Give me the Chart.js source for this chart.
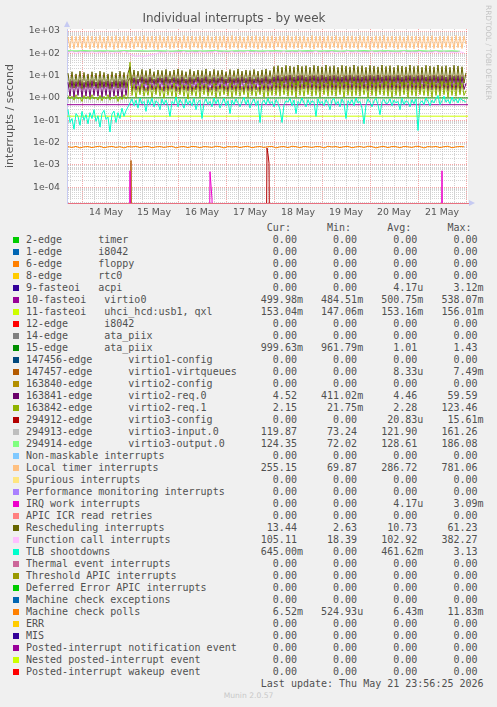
<!DOCTYPE html>
<html>
<head>
<meta charset="utf-8">
<title>Individual interrupts - by week</title>
<script src="https://cdn.jsdelivr.net/npm/chart.js@4.4.1/dist/chart.umd.min.js"></script>
<style>
  body { margin: 0; background: #f0f0f0; }
  #wrap { position: relative; width: 497px; height: 707px; overflow: hidden; }
  #chart { position: absolute; left: 0; top: 0; }
  #brand { position: absolute; left: 484px; top: 5px; writing-mode: vertical-rl; font: 7.4px "DejaVu Sans"; color: #c4c4c4; white-space: nowrap; }
  #legend { position: absolute; left: 0; top: 221.7px; font: 10px "DejaVu Sans Mono"; color: #505050; }
  .row { position: relative; height: 12px; line-height: 12px; white-space: pre; padding-left: 26px; }
  .swatch { position: absolute; left: 13px; top: 3px; width: 6px; height: 6px; }
  #munin { position: absolute; left: 0; width: 497px; top: 691px; text-align: center; font: 7.6px "DejaVu Sans"; color: #c8c8c8; }
</style>
</head>
<body>
<div id="wrap">
  <canvas id="chart" width="497" height="222"></canvas>
  <div id="brand">RRDTOOL / TOBI OETIKER</div>
  <div id="legend"></div>
  <div id="munin">Munin 2.0.57</div>
</div>
<script>
// hours are counted from 14 May 00:00
const dayLabels = ["14 May", "15 May", "16 May", "17 May", "18 May", "19 May", "20 May", "21 May"];
const decadeLabels = ["1e-04", "1e-03", "1e-02", "1e-01", "1e+00", "1e+01", "1e+02", "1e+03"];
const firstDecade = -4;
const hourMin = -7.5;
const hourMax = 193;
const yMin = 1.98e-5;
const yMax = 1230;

const legendLabels = [
  "2-edge      timer", "1-edge      i8042", "6-edge      floppy", "8-edge      rtc0",
  "9-fasteoi   acpi", "10-fasteoi   virtio0", "11-fasteoi   uhci_hcd:usb1, qxl",
  "12-edge      i8042", "14-edge      ata_piix", "15-edge      ata_piix",
  "147456-edge      virtio1-config", "147457-edge      virtio1-virtqueues",
  "163840-edge      virtio2-config", "163841-edge      virtio2-req.0",
  "163842-edge      virtio2-req.1", "294912-edge      virtio3-config",
  "294913-edge      virtio3-input.0", "294914-edge      virtio3-output.0",
  "Non-maskable interrupts", "Local timer interrupts", "Spurious interrupts",
  "Performance monitoring interrupts", "IRQ work interrupts", "APIC ICR read retries",
  "Rescheduling interrupts", "Function call interrupts", "TLB shootdowns",
  "Thermal event interrupts", "Threshold APIC interrupts", "Deferred Error APIC interrupts",
  "Machine check exceptions", "Machine check polls", "ERR", "MIS",
  "Posted-interrupt notification event", "Nested posted-interrupt event",
  "Posted-interrupt wakeup event",
];
const legendColors = [
  "00CC00", "0066B3", "FF8000", "FFCC00", "330099", "990099", "CCFF00", "FF0000",
  "808080", "008F00", "00487D", "B35A00", "B38F00", "6B006B", "8FB300", "B30000",
  "BEBEBE", "80FF80", "80C9FF", "FFC080", "FFE680", "AA80FF", "EE00CC", "FF8080",
  "666600", "FFBFFF", "00FFCC", "CC6699", "999900", "00CC00", "0066B3", "FF8000",
  "FFCC00", "330099", "990099", "CCFF00", "FF0000",
];
const curValues = [
  "0.00", "0.00", "0.00", "0.00", "0.00", "499.98m", "153.04m", "0.00", "0.00", "999.63m",
  "0.00", "0.00", "0.00", "4.52", "2.15", "0.00", "119.87", "124.35", "0.00", "255.15",
  "0.00", "0.00", "0.00", "0.00", "13.44", "105.11", "645.00m", "0.00", "0.00", "0.00",
  "0.00", "6.52m", "0.00", "0.00", "0.00", "0.00", "0.00",
];
const minValues = [
  "0.00", "0.00", "0.00", "0.00", "0.00", "484.51m", "147.06m", "0.00", "0.00", "961.79m",
  "0.00", "0.00", "0.00", "411.02m", "21.75m", "0.00", "73.24", "72.02", "0.00", "69.87",
  "0.00", "0.00", "0.00", "0.00", "2.63", "18.39", "0.00", "0.00", "0.00", "0.00",
  "0.00", "524.93u", "0.00", "0.00", "0.00", "0.00", "0.00",
];
const avgValues = [
  "0.00", "0.00", "0.00", "0.00", "4.17u", "500.75m", "153.16m", "0.00", "0.00", "1.01",
  "0.00", "8.33u", "0.00", "4.46", "2.28", "20.83u", "121.90", "128.61", "0.00", "286.72",
  "0.00", "0.00", "4.17u", "0.00", "10.73", "102.92", "461.62m", "0.00", "0.00", "0.00",
  "0.00", "6.43m", "0.00", "0.00", "0.00", "0.00", "0.00",
];
const maxValues = [
  "0.00", "0.00", "0.00", "0.00", "3.12m", "538.07m", "156.01m", "0.00", "0.00", "1.43",
  "0.00", "7.49m", "0.00", "59.59", "123.46", "15.61m", "161.26", "186.08", "0.00", "781.06",
  "0.00", "0.00", "3.09m", "0.00", "61.23", "382.27", "3.13", "0.00", "0.00", "0.00",
  "0.00", "11.83m", "0.00", "0.00", "0.00", "0.00", "0.00",
];
const lastUpdate = "Last update: Thu May 21 23:56:25 2026";

// hourly samples, hour -7 .. 192
const hourlyStart = -7;
const localTimer = [
  540, 170, 600, 160, 580, 185, 620, 165, 560, 175,
  610, 155, 590, 180, 570, 165, 630, 170, 550, 160,
  600, 185, 580, 150, 620, 170, 560, 180, 590, 165,
  610, 175, 540, 160, 600, 190, 580, 170, 620, 155,
  570, 180, 600, 165, 590, 150, 630, 175, 560, 185,
  600, 160, 580, 170, 610, 180, 550, 165, 620, 175,
  590, 155, 600, 185, 570, 170, 610, 160, 580, 180,
  620, 165, 560, 175, 600, 150, 590, 185, 610, 170,
  570, 160, 630, 180, 580, 165, 600, 175, 550, 160,
  610, 185, 590, 170, 620, 155, 570, 180, 600, 165,
  580, 175, 610, 160, 560, 190, 600, 170, 590, 155,
  620, 180, 570, 165, 610, 175, 580, 160, 600, 185,
  550, 170, 630, 155, 590, 180, 600, 165, 570, 175,
  610, 160, 580, 185, 620, 170, 560, 150, 600, 180,
  590, 165, 610, 175, 570, 160, 620, 185, 580, 170,
  600, 155, 560, 180, 610, 165, 590, 175, 630, 160,
  570, 185, 600, 170, 580, 155, 610, 180, 560, 165,
  620, 175, 590, 160, 600, 185, 570, 170, 610, 150,
  580, 180, 620, 165, 550, 175, 600, 160, 590, 185,
  610, 170, 570, 155, 630, 180, 580, 165, 600, 255.15,
];
const rescheduling = [
  13, 3, 15, 2.8, 12, 3.2, 16, 2.6, 14, 3,
  12, 2.9, 15, 3.3, 13, 2.7, 16, 3, 14, 3.1,
  12, 2.6, 15, 3.2, 13, 2.8, 16, 3, 14, 2.9,
  13, 25,
  4.5, 18, 4, 16, 5, 19, 4.2, 17, 3.8, 20,
  4.6, 15, 4.1, 18, 5, 17, 3.9, 19, 4.4, 16,
  4.8, 18, 4.2, 20, 3.7, 17, 4.5, 15, 4, 19,
  4.3, 16, 5, 18, 3.9, 17, 4.6, 20, 4.1, 16,
  4.4, 19, 3.8, 17, 4.9, 18, 4.2, 15, 4.6, 19,
  4, 17, 4.5, 20, 3.9, 16, 4.7, 18, 4.3, 17,
  4.1, 19, 4.6, 16, 3.8, 18, 4.4, 20, 4.2, 17, 4.5,
  26, 4.2, 28, 3.9, 24, 4.6, 29, 4.1, 27, 4.4,
  25, 3.8, 30, 4.5, 26, 4.1, 28, 3.9, 24, 4.7,
  29, 4.3, 27, 4, 25, 4.6, 30, 4.2, 26, 3.9,
  28, 4.5, 24, 4.1, 29, 4.4, 27, 3.8, 25, 4.6,
  30, 4.2, 26, 4, 28, 4.5, 24, 3.9, 29, 4.3,
  27, 4.1, 25, 4.6, 30, 4, 26, 4.4, 28, 3.8,
  24, 4.5, 29, 4.2, 27, 3.9, 25, 4.6, 30, 4.1,
  26, 4.3, 28, 4, 24, 4.5, 29, 4.2, 27, 3.9,
  25, 4.6, 30, 4.1, 26, 4.4, 28, 3.8, 24, 4.5,
  29, 4.2, 27, 4, 25, 4.6, 13.44,
];
const virtio2Req0 = [
  5, 1.2, 6, 1.1, 5.5, 1.3, 6.2, 1.1, 5, 1.2,
  5.8, 1.1, 6, 1.3, 5.2, 1.2, 6.1, 1.1, 5.4, 1.3,
  5.9, 1.1, 5.3, 1.2, 6, 1.2, 5.6, 1.1, 6.2, 1.3,
  5.5, 8,
  2, 8, 2.2, 7, 1.8, 9, 2.1, 7.5, 2, 8.5,
  2.3, 7, 1.9, 8, 2.2, 7.8, 2, 9, 2.1, 7.2,
  2.4, 8.2, 2, 7.6, 1.8, 8.8, 2.2, 7.1, 2.1, 8.4,
  1.9, 7.4, 2.3, 8.6, 2, 7.9, 2.2, 9.1, 1.8, 7.3,
  2.2, 8.3, 2, 7.7, 2.4, 8.9, 2.1, 7.2, 1.9, 8.5,
  2.3, 7.5, 2, 8.1, 2.2, 9, 1.8, 7.6, 2.1, 8.7,
  2, 7.3, 2.3, 8.4, 1.9, 7.8, 2.2, 9.2, 2, 7.4, 2.1,
  9, 2.2, 10, 2, 8.5, 2.4, 9.5, 2.1, 10.5, 2.3,
  8.8, 2, 9.8, 2.2, 10.2, 2.5, 8.6, 2.1, 9.6, 2.3,
  10, 2.2, 9.2, 2, 10.4, 2.4, 8.9, 2.1, 9.7, 2.3,
  10.1, 2.2, 9.3, 2, 8.7, 2.4, 9.9, 2.1, 10.3, 2.3,
  9.1, 2.2, 10, 2, 8.8, 2.5, 9.5, 2.1, 10.2, 2.3,
  9.4, 2, 10.6, 2.2, 8.9, 2.4, 9.8, 2.1, 10, 2.3,
  9.2, 2.2, 10.3, 2, 8.6, 2.4, 9.7, 2.1, 10.1, 2.3,
  9, 2.2, 9.9, 2, 10.4, 2.5, 8.8, 2.1, 9.6, 2.3,
  10.2, 2.2, 9.3, 2, 9.9, 2.4, 8.7, 2.1, 10.5, 2.3,
  9.5, 2.2, 10, 2, 9.1, 2.4, 4.52,
];
const virtio2Req1 = [
  1.3, 0.9, 1.2, 0.8, 1.4, 0.9, 1.1, 0.7, 1.3, 0.9,
  1.2, 0.85, 1.4, 0.9, 1.1, 0.8, 1.3, 0.75, 1.2, 0.9,
  1.4, 0.8, 1.1, 0.9, 1.3, 0.7, 1.2, 0.85, 1.4, 0.9,
  1.2, 40,
  1.3, 4, 1.1, 3.5, 1.4, 4.5, 1.2, 3, 1.3, 4.2,
  1.1, 3.6, 1.4, 4.4, 1.2, 3.2, 1, 4.1, 1.3, 3.7,
  1.2, 4.6, 1.1, 3.3, 1.4, 4, 1.2, 3.8, 0.9, 4.3,
  1.3, 3.4, 1.2, 4.5, 1.1, 3.9, 1.4, 4.2, 1.2, 3.1,
  1.3, 4.4, 1.1, 3.6, 1.2, 4.1, 1.4, 3.5, 1.2, 4.6,
  1.1, 3.8, 1.3, 4.2, 1.2, 3.4, 1.4, 4.5, 1.1, 3.7,
  1.3, 4.3, 1.2, 3.2, 1.4, 4, 1.1, 4.4, 1.2, 3.6, 1.3,
  5, 1.3, 4.5, 1.2, 5.5, 1.4, 4.2, 1.2, 5.2, 1.3,
  4.8, 1.1, 5.6, 1.3, 4.4, 1.2, 5.1, 1.4, 4.6, 1.2,
  5.4, 1.3, 4.3, 1.1, 5, 1.4, 4.7, 1.2, 5.5, 1.3,
  4.5, 1.2, 5.3, 1.4, 4.9, 1.1, 5.2, 1.3, 4.4, 1.2,
  5.6, 1.3, 4.6, 1.2, 5, 1.4, 4.3, 1.1, 5.4, 1.3,
  4.8, 1.2, 5.1, 1.4, 4.5, 1.3, 5.5, 1.2, 4.7, 1.1,
  5.3, 1.3, 4.4, 1.2, 5.2, 1.4, 4.9, 1.1, 5.6, 1.3,
  4.6, 1.2, 5, 1.4, 4.3, 1.3, 5.4, 1.2, 4.8, 1.1,
  5.1, 1.3, 4.5, 1.2, 5.5, 1.4, 4.7, 1.1, 5.2, 1.3,
  4.4, 1.2, 5, 1.4, 4.6, 1.3, 2.15,
];
const tlbShootdowns = [
  0.3, 0.08, 0.12, 0.04, 0.2, 0.15, 0.06, 0.25, 0.1, 0.18,
  0.07, 0.22, 0.12, 0.3, 0.09, 0.16, 0.05, 0.2, 0.28, 0.11,
  0.14, 0.03, 0.19, 0.26, 0.08, 0.22, 0.12, 0.35, 0.15, 0.27,
  0.4,
  0.6, 0.9, 0.45, 0.8, 0.35, 1.0, 0.55, 0.7, 0.25, 0.85,
  0.5, 0.95, 0.4, 0.75, 0.6, 0.3, 0.9, 0.5, 0.8, 0.45,
  0.15, 0.7, 0.55, 1.1, 0.4, 0.85, 0.6, 0.35, 0.9, 0.5,
  0.75, 0.45, 0.95, 0.3, 0.65, 0.8, 0.12, 0.6, 0.9, 0.5,
  0.7, 0.4, 1.0, 0.55, 0.85, 0.35, 0.6, 0.95, 0.45, 0.75,
  0.2, 0.8, 0.5, 0.9, 0.6, 0.4, 0.7, 1.05, 0.5, 0.85,
  0.35, 0.65, 0.9, 0.45, 0.75, 0.08, 0.6, 0.8, 0.5, 0.95,
  0.55, 0.7, 0.4, 0.85, 0.6, 0.3, 0.08, 0.5, 0.75, 0.65,
  0.95, 0.45, 0.8, 0.2, 0.7, 0.55, 1.0, 0.6, 0.4, 0.85,
  0.5, 0.75, 0.65, 0.15, 0.9, 0.55, 0.7, 0.45, 0.85, 0.6,
  0.3, 0.8, 0.95, 0.5, 0.7, 0.4, 0.9, 0.6, 0.12, 0.75,
  0.55, 0.85, 0.45, 1.0, 0.6, 0.7, 0.35, 0.07, 0.5, 0.9,
  0.65, 0.4, 0.75, 0.95, 0.5, 0.18, 0.7, 0.85, 0.55, 0.6,
  0.9, 0.45, 0.8, 0.6, 0.7, 0.3, 0.95, 0.5, 0.75, 0.65,
  0.4, 0.85, 0.55, 0.9, 0.035, 0.6, 0.75, 0.5, 1.0, 0.7,
  0.45, 0.8, 0.6, 0.95, 1.3, 0.5, 0.75, 1.2, 0.65, 0.85,
  0.55, 1.1, 0.7, 0.9, 0.6, 1.0, 0.8, 0.75, 0.645,
];

// two-hourly samples, hour -7 .. 191
const twoHourlyStart = -7;
const functionCall = [
  105, 120, 98, 115, 110, 102, 118, 100, 112, 106,
  116, 99, 113, 108, 121, 104, 85, 74, 78, 72,
  80, 88, 95, 110, 102, 118, 100, 112, 106, 120,
  98, 115, 104, 117, 101, 111, 107, 122, 99, 114,
  105, 119, 100, 113, 109, 121, 97, 116, 103, 110,
  118, 101, 112, 106, 120, 99, 115, 104, 117, 102,
  111, 107, 122, 100, 114, 105, 119, 98, 113, 109,
  121, 103, 116, 100, 112, 106, 120, 99, 115, 104,
  117, 101, 111, 107, 122, 100, 114, 105, 119, 98,
  113, 109, 121, 103, 116, 100, 112, 106, 118, 105.11,
];
const machineCheckPolls = [
  0.0066, 0.0061, 0.0068, 0.0058, 0.0065, 0.0067, 0.0060, 0.0066, 0.0069, 0.0059,
  0.0065, 0.0068, 0.0061, 0.0066, 0.0058, 0.0067, 0.0064, 0.0069, 0.0060, 0.0066,
  0.0068, 0.0059, 0.0065, 0.0067, 0.0061, 0.0066, 0.0069, 0.0058, 0.0065, 0.0067,
  0.0060, 0.0068, 0.0066, 0.0059, 0.0067, 0.0065, 0.0061, 0.0069, 0.0066, 0.0058,
  0.0067, 0.0064, 0.0068, 0.0060, 0.0066, 0.0069, 0.0059, 0.0065, 0.0067, 0.0061,
  0.0066, 0.0068, 0.0058, 0.0065, 0.0067, 0.0060, 0.0069, 0.0066, 0.0059, 0.0068,
  0.0065, 0.0061, 0.0067, 0.0066, 0.0058, 0.0069, 0.0064, 0.0067, 0.0060, 0.0066,
  0.0068, 0.0059, 0.0065, 0.0067, 0.0061, 0.0069, 0.0066, 0.0058, 0.0065, 0.0068,
  0.0060, 0.0067, 0.0066, 0.0059, 0.0068, 0.0065, 0.0061, 0.0069, 0.0066, 0.0058,
  0.0067, 0.0064, 0.0068, 0.0060, 0.0066, 0.0069, 0.0059, 0.0065, 0.0067, 0.00652,
];

// four-hourly samples, hour -7 .. 189
const fourHourlyStart = -7;
const virtio3Output = [
  132, 129, 134, 128, 131, 130, 127, 133, 129, 131,
  128, 132, 130, 126, 133, 129, 131, 128, 134, 130,
  127, 131, 129, 133, 128, 130, 132, 127, 131, 129,
  133, 128, 130, 132, 126, 131, 129, 134, 128, 130,
  132, 127, 131, 129, 133, 128, 130, 126, 131, 124.35,
];
const virtio3Input = [
  121, 123, 120, 124, 122, 119, 123, 121, 125, 120,
  122, 124, 119, 123, 121, 122, 120, 124, 123, 121,
  119, 122, 124, 120, 123, 121, 125, 122, 120, 123,
  121, 124, 119, 122, 123, 120, 124, 121, 122, 123,
  120, 124, 122, 121, 123, 119, 122, 124, 121, 119.87,
];

// near-constant lines
const flatStart = -8;
const flatStep = 51;
const virtio0 = [0.501, 0.500, 0.499, 0.500, 0.500];
const uhciQxl = [0.1531, 0.1532, 0.1531, 0.1532, 0.1530];
const ataPiix = [1.00, 1.01, 1.00, 1.01, 1.00];

// isolated spikes, hour / value pairs
const virtqueuesHours = [24, 24.5, 25];
const virtqueuesValues = [0, 0.0016, 0];
const irqWorkHours = [23.5, 24, 24.5, 63.5, 64, 65, 65.5, 179.5, 180, 180.5];
const irqWorkValues = [0, 0.00055, 0, 0, 0.0005, 0.00003, 0, 0, 0.00055, 0];
const virtio3ConfigHours = [92, 92.5, 93, 93.5, 94];
const virtio3ConfigValues = [0, 0.0058, 0.003, 0.0012, 0];

// rrdtool puts zero samples on the floor of a log graph
const FLOOR = 1e-9;

function toPoints(values, start, step) {
  return values.map((v, i) => ({ x: start + i * step, y: v > 0 ? v : FLOOR }));
}

function toPairs(hours, values) {
  return hours.map((h, i) => ({ x: h, y: values[i] > 0 ? values[i] : FLOOR }));
}

// legend index -> drawn data
const plotted = {
  5: toPoints(virtio0, flatStart, flatStep),
  6: toPoints(uhciQxl, flatStart, flatStep),
  9: toPoints(ataPiix, flatStart, flatStep),
  11: toPairs(virtqueuesHours, virtqueuesValues),
  13: toPoints(virtio2Req0, hourlyStart, 1),
  14: toPoints(virtio2Req1, hourlyStart, 1),
  15: toPairs(virtio3ConfigHours, virtio3ConfigValues),
  16: toPoints(virtio3Input, fourHourlyStart, 4),
  17: toPoints(virtio3Output, fourHourlyStart, 4),
  19: toPoints(localTimer, hourlyStart, 1),
  22: toPairs(irqWorkHours, irqWorkValues),
  24: toPoints(rescheduling, hourlyStart, 1),
  25: toPoints(functionCall, twoHourlyStart, 2),
  26: toPoints(tlbShootdowns, hourlyStart, 1),
  31: toPoints(machineCheckPolls, twoHourlyStart, 2),
};

function buildDatasets() {
  const datasets = [];
  legendLabels.forEach((label, i) => {
    if (!plotted[i]) return;
    datasets.push({
      label: label,
      data: plotted[i],
      borderColor: "#" + legendColors[i],
      borderWidth: 1,
      pointRadius: 0,
      tension: 0,
      order: legendLabels.length - i, // later legend rows on top, like rrdtool
    });
  });
  return datasets;
}

function isDecade(v) {
  const e = Math.log10(v);
  return Math.abs(e - Math.round(e)) < 1e-9;
}

function yTicks(scale) {
  const ticks = [];
  for (let e = -5; e <= 3; e++) {
    for (let k = 1; k <= 9; k++) {
      const v = Number((k * Math.pow(10, e)).toPrecision(3));
      if (v >= yMin && v <= yMax) ticks.push({ value: v });
    }
  }
  scale.ticks = ticks;
}

function xTicks(scale) {
  const ticks = [];
  for (let h = -6; h <= 192; h += 6) ticks.push({ value: h });
  scale.ticks = ticks;
}

const MAJOR_GRID = "rgba(240,110,110,0.6)";
const MINOR_GRID = "rgba(175,175,175,0.55)";

const plotBackground = {
  id: "plotBackground",
  beforeDraw(chart) {
    const { ctx, chartArea: a } = chart;
    ctx.save();
    ctx.fillStyle = "#ffffff";
    ctx.fillRect(a.left, a.top, a.right - a.left, a.bottom - a.top);
    ctx.restore();
  },
};

const axisArrows = {
  id: "axisArrows",
  afterDraw(chart) {
    const { ctx, chartArea: a } = chart;
    ctx.save();
    ctx.fillStyle = "#c6caf2";
    ctx.beginPath();
    ctx.moveTo(a.left - 3, a.top - 2);
    ctx.lineTo(a.left + 3, a.top - 2);
    ctx.lineTo(a.left, a.top - 8);
    ctx.closePath();
    ctx.fill();
    ctx.beginPath();
    ctx.moveTo(a.right + 1, a.bottom - 3);
    ctx.lineTo(a.right + 1, a.bottom + 3);
    ctx.lineTo(a.right + 7, a.bottom);
    ctx.closePath();
    ctx.fill();
    ctx.restore();
  },
};

const tickFont = { family: "DejaVu Sans", size: 9.33 };

new Chart(document.getElementById("chart"), {
  type: "line",
  data: { datasets: buildDatasets() },
  options: {
    responsive: false,
    animation: false,
    layout: { padding: { left: 0, right: 29, top: 0, bottom: 0 } },
    plugins: {
      legend: { display: false },
      tooltip: { enabled: false },
      title: {
        display: true,
        text: "Individual interrupts - by week",
        color: "#555555",
        font: { family: "DejaVu Sans", size: 12, weight: "normal" },
        padding: { top: 12, bottom: 2.6 },
      },
    },
    scales: {
      x: {
        type: "linear",
        min: hourMin,
        max: hourMax,
        afterBuildTicks: xTicks,
        afterFit: (scale) => { scale.height = 19; },
        ticks: {
          autoSkip: false,
          maxRotation: 0,
          padding: 4,
          color: "#555555",
          font: tickFont,
          callback: (v) => ((v - 12) % 24 === 0 ? dayLabels[(v - 12) / 24] || "" : ""),
        },
        grid: {
          drawTicks: false,
          lineWidth: 1,
          borderDash: [1, 1],
          color: (ctx) => (ctx.tick && ctx.tick.value % 24 === 0 ? MAJOR_GRID : MINOR_GRID),
        },
        border: { display: true, color: "#e87080", width: 1, dash: [1, 1] },
      },
      y: {
        type: "logarithmic",
        min: yMin,
        max: yMax,
        afterBuildTicks: yTicks,
        afterFit: (scale) => { scale.width = 67; },
        ticks: {
          autoSkip: false,
          padding: 7,
          color: "#555555",
          font: tickFont,
          callback: (v) => {
            if (!isDecade(v)) return "";
            return decadeLabels[Math.round(Math.log10(v)) - firstDecade] || "";
          },
        },
        grid: {
          drawTicks: false,
          lineWidth: 1,
          borderDash: [1, 1],
          color: (ctx) => (ctx.tick && isDecade(ctx.tick.value) ? MAJOR_GRID : MINOR_GRID),
        },
        border: { display: true, color: "#c6caf2", width: 1, dash: [1, 1] },
        title: {
          display: true,
          text: "interrupts / second",
          color: "#555555",
          font: { family: "DejaVu Sans", size: 11 },
          padding: { top: 4, bottom: 0 },
        },
      },
    },
  },
  plugins: [plotBackground, axisArrows],
});

// munin style legend: name, then Cur / Min / Avg / Max columns
function cell(v) {
  const s = /[0-9]$/.test(v) ? v + " " : v;
  return s.padStart(10);
}

function renderLegend() {
  const box = document.getElementById("legend");
  const header = document.createElement("div");
  header.className = "row";
  header.textContent = "Cur:".padStart(44) + "Min:".padStart(10) + "Avg:".padStart(10) + "Max:".padStart(10);
  box.appendChild(header);

  legendLabels.forEach((label, i) => {
    const row = document.createElement("div");
    row.className = "row";
    const sw = document.createElement("span");
    sw.className = "swatch";
    sw.style.background = "#" + legendColors[i];
    row.appendChild(sw);
    row.appendChild(document.createTextNode(
      label.padEnd(36) + cell(curValues[i]) + cell(minValues[i]) + cell(avgValues[i]) + cell(maxValues[i])
    ));
    box.appendChild(row);
  });

  const footer = document.createElement("div");
  footer.className = "row";
  footer.textContent = lastUpdate.padStart(76);
  box.appendChild(footer);
}

renderLegend();
</script>
</body>
</html>
